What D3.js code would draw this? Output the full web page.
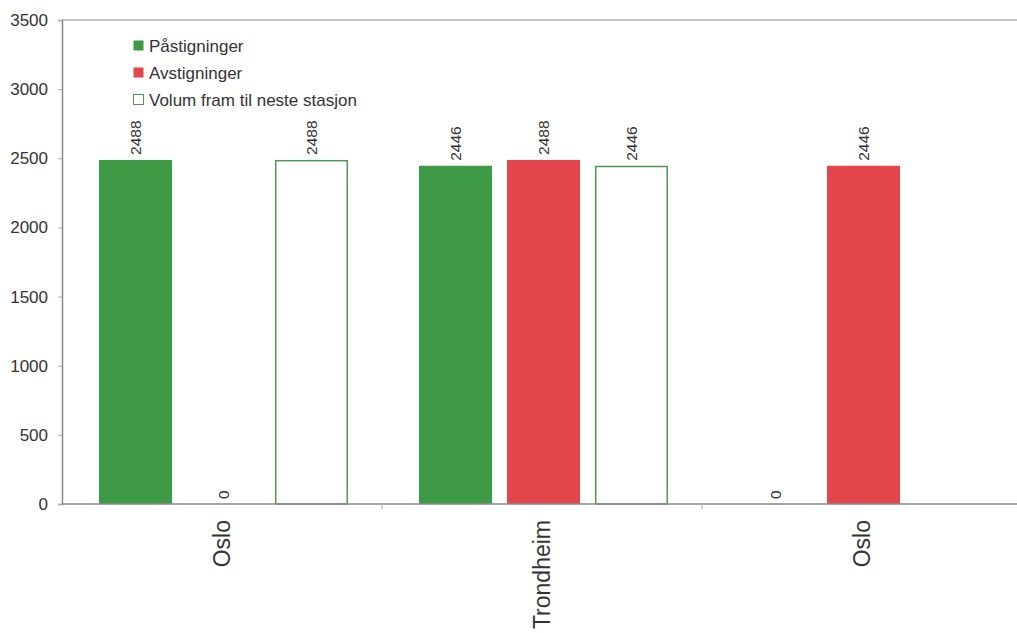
<!DOCTYPE html>
<html>
<head>
<meta charset="utf-8">
<script src="https://cdn.jsdelivr.net/npm/d3@7"></script>
<style>
  html, body { margin: 0; padding: 0; background: #fff; }
  svg { display: block; font-family: "Liberation Sans", Arial, sans-serif; }
</style>
</head>
<body>
<svg id="chart" width="1017" height="633"></svg>
<script>
// Stations along the route
const stations = ["Oslo", "Trondheim", "Oslo"];
// Series names and values per station (null = no bar)
const seriesNames = ["Påstigninger", "Avstigninger", "Volum fram til neste stasjon"];
const boarding = [2488, 2446, 0];
const alighting = [0, 2488, 2446];
const volume = [2488, 2446, null];
const yTicks = [0, 500, 1000, 1500, 2000, 2500, 3000, 3500];

const series = [
  { name: seriesNames[0], values: boarding, fill: "#3f9a45", stroke: "#3f9a45" },
  { name: seriesNames[1], values: alighting, fill: "#e2454b", stroke: "#e2454b" },
  { name: seriesNames[2], values: volume, fill: "#ffffff", stroke: "#4a9a50" }
];

const svg = d3.select("#chart");
const margin = { left: 62, right: 0, top: 20, bottom: 129 };
const W = 1017, H = 633;
const plotW = 960, plotH = H - margin.top - margin.bottom;

const x0 = d3.scaleBand().domain(d3.range(stations.length)).range([margin.left, margin.left + plotW]).padding(0);
const x1 = d3.scaleBand().domain(d3.range(series.length)).range([37, 286]).paddingInner(0.17).paddingOuter(0);
const y = d3.scaleLinear().domain([0, 3500]).range([margin.top + plotH, margin.top]);

// top frame line
svg.append("line")
  .attr("x1", margin.left).attr("x2", W)
  .attr("y1", y(3500)).attr("y2", y(3500))
  .attr("stroke", "#b0b0b0").attr("stroke-width", 1.5);

// bars
const groups = svg.append("g").selectAll("g")
  .data(stations).join("g")
  .attr("transform", (d, i) => `translate(${x0(i)},0)`);

series.forEach((s, si) => {
  groups.each(function(st, gi) {
    const v = s.values[gi];
    if (v === null) return;
    const g = d3.select(this);
    if (v > 0) {
      const isOutline = s.fill === "#ffffff";
      g.append("rect")
        .attr("x", x1(si) + (isOutline ? 0.75 : 0))
        .attr("width", x1.bandwidth() - (isOutline ? 1.5 : 0))
        .attr("y", y(v) + (isOutline ? 0.75 : 0))
        .attr("height", y(0) - y(v) - (isOutline ? 0.75 : 0))
        .attr("fill", s.fill)
        .attr("stroke", isOutline ? s.stroke : "none")
        .attr("stroke-width", 1.5);
    }
    const cx = x1(si) + x1.bandwidth() / 2;
    const ty = y(v) - 5;
    g.append("text")
      .attr("transform", `translate(${cx + 5.5},${ty}) rotate(-90)`)
      .attr("text-anchor", "start")
      .attr("font-size", 15.5)
      .attr("fill", "#333")
      .text(v);
  });
});

// y axis
const yAxis = d3.axisLeft(y).tickValues(yTicks).tickFormat(d3.format("d")).tickSize(4).tickPadding(10);
const gy = svg.append("g").attr("transform", `translate(${margin.left},0)`).call(yAxis);
gy.select(".domain").attr("stroke", "#888").attr("stroke-width", 1.5);
gy.selectAll(".tick line").attr("stroke", "#aaa");
gy.selectAll(".tick text").attr("font-size", 17).attr("fill", "#333")
  .attr("font-family", "Liberation Sans, Arial, sans-serif");

// x axis baseline and separators between stations
svg.append("line")
  .attr("x1", margin.left).attr("x2", W)
  .attr("y1", y(0)).attr("y2", y(0))
  .attr("stroke", "#888").attr("stroke-width", 1.5);
svg.append("g").selectAll("line")
  .data(d3.range(1, stations.length)).join("line")
  .attr("x1", i => x0(i)).attr("x2", i => x0(i))
  .attr("y1", y(0)).attr("y2", y(0) + 5)
  .attr("stroke", "#aaa");

// station labels
svg.append("g").selectAll("text")
  .data(stations).join("text")
  .attr("transform", (d, i) => `translate(${x0(i) + x0.bandwidth() / 2 + 8},${y(0) + 16}) rotate(-90)`)
  .attr("text-anchor", "end")
  .attr("font-size", 23)
  .attr("fill", "#333")
  .text(d => d);

// legend
const legend = svg.append("g").attr("transform", "translate(133,40)");
series.forEach((s, i) => {
  const row = legend.append("g").attr("transform", `translate(0,${i * 27})`);
  row.append("rect")
    .attr("x", 0.5).attr("y", 0.5).attr("width", 10).attr("height", 10)
    .attr("fill", s.fill)
    .attr("stroke", s.fill === "#ffffff" ? s.stroke : "none");
  row.append("text")
    .attr("x", 16).attr("y", 11.5)
    .attr("font-size", 17).attr("fill", "#333")
    .text(s.name);
});
</script>
</body>
</html>
